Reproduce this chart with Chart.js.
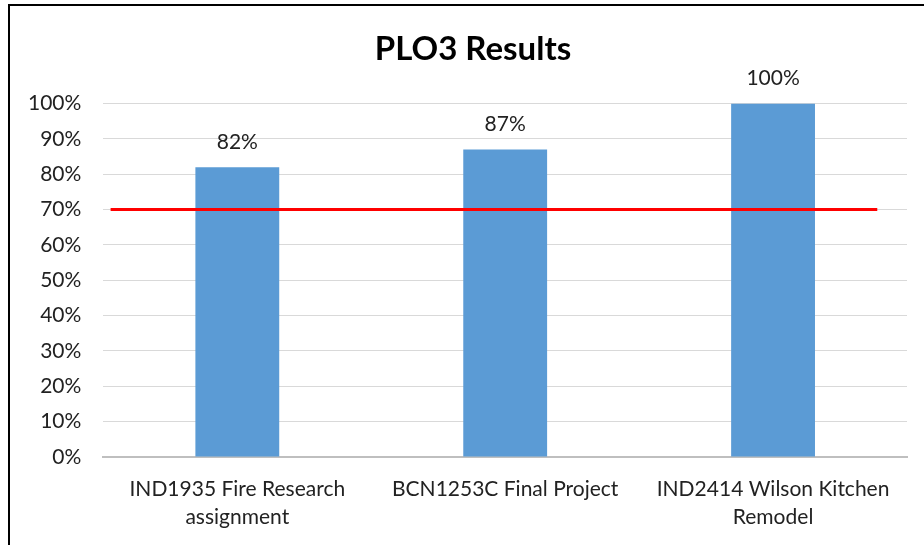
<!DOCTYPE html>
<html>
<head>
<meta charset="utf-8">
<script src="https://cdn.jsdelivr.net/npm/chart.js@4/dist/chart.umd.min.js"></script>
<style>
  html, body { margin: 0; padding: 0; background: #fff; overflow: hidden; }
  #wrap { position: relative; width: 924px; height: 545px; }
  #frame { position: absolute; left: 8px; top: 4px; width: 1000px; height: 1000px;
           border: 2px solid #000; pointer-events: none; }
</style>
</head>
<body>
<div id="wrap">
  <canvas id="chartPLO3" width="924" height="545"></canvas>
  <div id="frame"></div>
</div>
<script>
// datos del grafico
const cursos = [
  ["IND1935 Fire Research", "assignment"],
  ["BCN1253C Final Project"],
  ["IND2414 Wilson Kitchen", "Remodel"]
];
const resultados = [82, 87, 100];
const meta = 70;               // linea roja de objetivo
const metaInicio = 0.009;      // extremos de la linea (eje oculto 0..1)
const metaFin = 0.963;
const ticksY = [0, 10, 20, 30, 40, 50, 60, 70, 80, 90, 100];
const titulo = "PLO3 Results";

const fuente = "Lato, 'Liberation Sans', sans-serif";

// etiquetas encima de las barras + titulo (centrado en el grafico original)
const etiquetasBarras = {
  id: "etiquetasBarras",
  afterDatasetsDraw(chart) {
    const ctx = chart.ctx;
    const metaBar = chart.getDatasetMeta(1);
    ctx.save();
    ctx.font = "21px " + fuente;
    ctx.fillStyle = "#222";
    ctx.textAlign = "center";
    ctx.textBaseline = "middle";
    metaBar.data.forEach((el, i) => {
      ctx.fillText(resultados[i] + "%", el.x, el.y - 25);
    });
    // titulo
    const t = chart.titleBlock;
    ctx.font = "bold 33px " + fuente;
    ctx.fillStyle = "#000";
    ctx.fillText(titulo, chart.width / 2 + 11, t.top + t.height / 2 - 17);
    ctx.restore();
  }
};

var ctx = document.getElementById("chartPLO3").getContext("2d");
var chartPLO3 = new Chart(ctx, {
  type: "bar",
  data: {
    labels: cursos,
    datasets: [
      {
        type: "line",
        label: "Meta",
        data: [{ x: metaInicio, y: meta }, { x: metaFin, y: meta }],
        xAxisID: "x2",
        borderColor: "#FF0000",
        borderWidth: 3,
        pointRadius: 0,
        fill: false,
        order: 0
      },
      {
        label: "PLO3",
        data: resultados,
        backgroundColor: "#5B9BD5",
        borderWidth: 0,
        grouped: false,
        categoryPercentage: 1,
        barPercentage: 0.313,
        order: 1
      }
    ]
  },
  options: {
    responsive: false,
    animation: false,
    devicePixelRatio: 1,
    layout: { padding: { left: 6, right: 17, top: 30, bottom: 4 } },
    plugins: {
      legend: { display: false },
      tooltip: { enabled: false },
      title: {
        display: true,
        text: titulo,
        color: "rgba(0,0,0,0)",
        font: { family: fuente, size: 33, weight: "bold" },
        padding: { top: 0, bottom: 34 }
      }
    },
    scales: {
      x: {
        grid: { display: false },
        border: { color: "#BFBFBF", width: 2 },
        ticks: {
          color: "#222",
          font: { family: fuente, size: 21, lineHeight: 1.333 },
          maxRotation: 0,
          autoSkip: false,
          padding: 10
        }
      },
      x2: {
        type: "linear",
        display: false,
        offset: false,
        min: 0,
        max: 1
      },
      y: {
        min: 0,
        max: 100,
        afterBuildTicks(axis) { axis.ticks = ticksY.map(v => ({ value: v })); },
        grid: { color: "#D9D9D9", lineWidth: 1, drawTicks: false },
        border: { display: false },
        ticks: {
          color: "#222",
          font: { family: fuente, size: 21 },
          padding: 22,
          callback: v => v + "%"
        }
      }
    }
  },
  plugins: [etiquetasBarras]
});
</script>
</body>
</html>
